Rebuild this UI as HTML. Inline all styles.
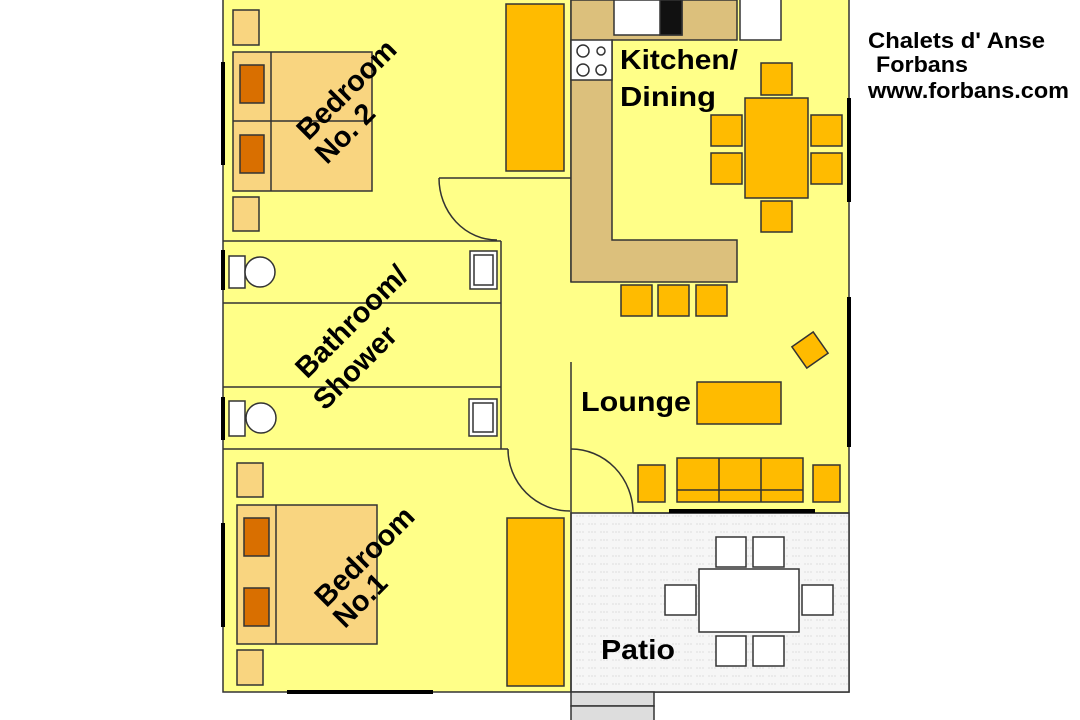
<!DOCTYPE html>
<html><head><meta charset="utf-8"><style>body{margin:0;background:#fff}svg{display:block}</style></head><body>
<svg width="1080" height="720" xmlns="http://www.w3.org/2000/svg" font-family="Liberation Sans, sans-serif" font-weight="bold">
<defs><pattern id="p" width="12" height="8" patternUnits="userSpaceOnUse"><rect width="12" height="8" fill="#f6f6f6"/><line x1="0" y1="4" x2="8" y2="4" stroke="#dedede" stroke-width="1" stroke-dasharray="2 1"/></pattern></defs>
<g stroke="#333" stroke-width="1.5">
<rect x="223" y="-2" width="626" height="694" fill="#ffff88"/>
<rect x="571" y="513" width="278" height="179" fill="url(#p)"/>
<rect x="571" y="692" width="83" height="14" fill="#ddd"/><rect x="571" y="706" width="83" height="16" fill="#ddd"/>
<line x1="571" y1="0" x2="571" y2="282"/><line x1="571" y1="362" x2="571" y2="692"/>
<line x1="439" y1="178" x2="571" y2="178"/>
<path d="M439 178 A58 62 0 0 0 497 240" fill="none"/>
<line x1="223" y1="241" x2="501" y2="241"/><line x1="501" y1="241" x2="501" y2="449"/>
<line x1="223" y1="303" x2="501" y2="303"/><line x1="223" y1="387" x2="501" y2="387"/>
<line x1="223" y1="449" x2="508" y2="449"/>
<path d="M508 449 A62 62 0 0 0 570 511" fill="none"/>
<path d="M571 449 A62 64 0 0 1 633 513" fill="none"/>
<line x1="633" y1="513" x2="849" y2="513"/>
<path d="M571 0 H737 V40 H612 V240 H737 V282 H571 Z" fill="#dcc07c"/>
<rect x="571" y="40" width="41" height="40" fill="#fff"/>
<rect x="614" y="0" width="68" height="35" fill="#fff"/><rect x="660" y="0" width="22" height="35" fill="#111"/>
<rect x="740" y="-2" width="41" height="42" fill="#fff"/>
<g fill="#fff"><circle cx="583" cy="51" r="6"/><circle cx="601" cy="51" r="4"/><circle cx="583" cy="70" r="6"/><circle cx="601" cy="70" r="5"/></g>
<g fill="#ffbb00"><rect x="745" y="98" width="63" height="100"/>
<rect x="761" y="63" width="31" height="32"/><rect x="761" y="201" width="31" height="31"/>
<rect x="711" y="115" width="31" height="31"/><rect x="711" y="153" width="31" height="31"/>
<rect x="811" y="115" width="31" height="31"/><rect x="811" y="153" width="31" height="31"/>
<rect x="621" y="285" width="31" height="31"/><rect x="658" y="285" width="31" height="31"/><rect x="696" y="285" width="31" height="31"/>
<rect x="697" y="382" width="84" height="42"/>
<rect x="677" y="458" width="126" height="44"/>
<rect x="638" y="465" width="27" height="37"/><rect x="813" y="465" width="27" height="37"/>
<rect x="797" y="337" width="26" height="26" transform="rotate(-35 810 350)"/>
<rect x="506" y="4" width="58" height="167"/><rect x="507" y="518" width="57" height="168"/></g>
<line x1="719" y1="458" x2="719" y2="502"/><line x1="761" y1="458" x2="761" y2="502"/><line x1="677" y1="490" x2="803" y2="490"/>
<g fill="#fff"><rect x="699" y="569" width="100" height="63"/>
<rect x="716" y="537" width="30" height="30"/><rect x="753" y="537" width="31" height="30"/>
<rect x="716" y="636" width="30" height="30"/><rect x="753" y="636" width="31" height="30"/>
<rect x="665" y="585" width="31" height="30"/><rect x="802" y="585" width="31" height="30"/></g>
<g fill="#f9d580"><rect x="233" y="10" width="26" height="35"/><rect x="233" y="52" width="139" height="139"/><rect x="233" y="197" width="26" height="34"/>
<rect x="237" y="463" width="26" height="34"/><rect x="237" y="505" width="140" height="139"/><rect x="237" y="650" width="26" height="35"/></g>
<line x1="271" y1="52" x2="271" y2="191"/><line x1="233" y1="121" x2="372" y2="121"/>
<line x1="276" y1="505" x2="276" y2="644"/>
<g fill="#d96f00"><rect x="240" y="65" width="24" height="38"/><rect x="240" y="135" width="24" height="38"/><rect x="244" y="518" width="25" height="38"/><rect x="244" y="588" width="25" height="38"/></g>
<g fill="#fff"><rect x="229" y="256" width="16" height="32"/><circle cx="260" cy="272" r="15"/>
<rect x="229" y="401" width="16" height="35"/><circle cx="261" cy="418" r="15"/>
<rect x="470" y="251" width="27" height="38"/><rect x="469" y="399" width="28" height="37"/>
<rect x="474" y="255" width="19" height="30"/><rect x="473" y="403" width="20" height="29"/></g>
</g>
<g stroke="#000" stroke-width="4">
<line x1="223" y1="62" x2="223" y2="165"/><line x1="223" y1="250" x2="223" y2="290"/><line x1="223" y1="397" x2="223" y2="440"/>
<line x1="223" y1="523" x2="223" y2="627"/><line x1="287" y1="692" x2="433" y2="692"/>
<line x1="849" y1="98" x2="849" y2="202"/><line x1="849" y1="297" x2="849" y2="447"/><line x1="669" y1="511" x2="815" y2="511"/>
</g>
<g fill="#000" font-size="29" dominant-baseline="central" text-anchor="middle">
<g transform="translate(347 90) rotate(-45)"><text x="0" y="0">Bedroom</text><text x="-32" y="30">No. 2</text></g>
<g transform="translate(352 322) rotate(-45)"><text x="0" y="0">Bathroom/</text><text x="-30" y="35">Shower</text></g>
<g transform="translate(365 557) rotate(-45)"><text x="0" y="0">Bedroom</text><text x="-34" y="28">No.1</text></g>
</g>
<g fill="#000" font-size="28" lengthAdjust="spacingAndGlyphs">
<text x="620" y="69" textLength="118" lengthAdjust="spacingAndGlyphs">Kitchen/</text><text x="620" y="106" textLength="96" lengthAdjust="spacingAndGlyphs">Dining</text>
<text x="581" y="411" textLength="110" lengthAdjust="spacingAndGlyphs">Lounge</text><text x="601" y="659" textLength="74" lengthAdjust="spacingAndGlyphs">Patio</text>
</g>
<g fill="#000" font-size="22">
<text x="868" y="48" textLength="177" lengthAdjust="spacingAndGlyphs">Chalets d' Anse</text><text x="876" y="72" textLength="92" lengthAdjust="spacingAndGlyphs">Forbans</text><text x="868" y="98" textLength="201" lengthAdjust="spacingAndGlyphs">www.forbans.com</text>
</g>
</svg>
</body></html>
